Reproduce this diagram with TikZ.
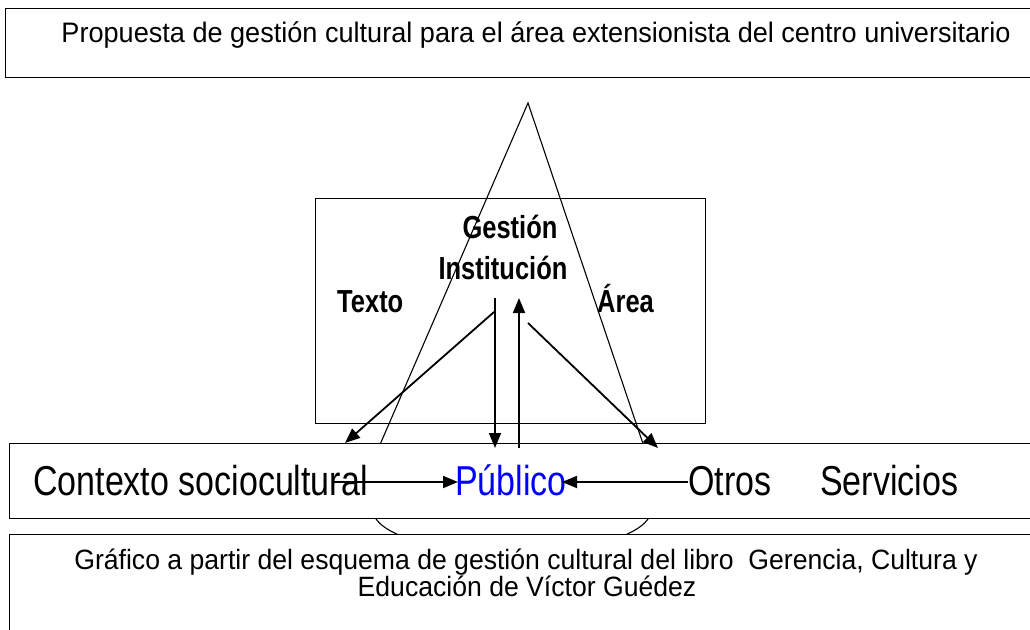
\documentclass[tikz,border=0pt]{standalone}
\usepackage{fontspec}
\setmainfont{Liberation Sans}
\usepackage{graphicx}
\usetikzlibrary{arrows.meta,shapes.geometric}
\newcommand{\vstr}[2]{\scalebox{1}[#1]{#2}}
\begin{document}
\begin{tikzpicture}[x=1pt,y=-1pt,
  box/.style={draw, line width=1.4pt, fill=white, inner sep=0pt, anchor=north west},
  tri/.style={line width=1.1pt},
  arr/.style={line width=1.8pt, -{Triangle[length=15pt,width=12pt]}},
  lbl/.style={inner sep=0pt, anchor=base west},
  clbl/.style={inner sep=0pt, anchor=base},
  big/.style={font=\fontsize{34}{40}\selectfont},
  bold/.style={font=\fontsize{25.5}{30}\selectfont\bfseries},
  small/.style={font=\fontsize{26.6}{30}\selectfont},
]
\useasboundingbox (0,0) rectangle (1030,629);
% middle box
\node[box, fill=none, minimum width=390pt, minimum height=225pt] (mid) at (315,198) {};
% cone
\coordinate (apex) at (528,103);
\coordinate (tl) at (356,500);
\coordinate (tr) at (662,500);
\draw[tri] (tl) -- (apex) -- (tr);
\node[draw, ellipse, line width=1.1pt, minimum width=278pt, minimum height=86pt, inner sep=0pt] (base) at (512,510) {};
% boxes
\node[box, minimum width=1040pt, minimum height=69pt] (top) at (5,8) {};
\node[box, minimum width=1040pt, minimum height=75pt] (ctx) at (9,443) {};
\node[box, minimum width=1040pt, minimum height=130pt] (bot) at (9,534) {};
% texts
\node[clbl, small, font=\fontsize{27.1}{30}\selectfont] (title) at (536,42) {\vstr{1.04}{Propuesta de gestión cultural para el área extensionista del centro universitario}};
\node[clbl, bold] (gest) at (510,238) {\vstr{1.25}{Gestión}};
\node[clbl, bold] (inst) at (503,279) {\vstr{1.25}{Institución}};
\node[lbl, bold] (texto) at (337,312) {\vstr{1.25}{Texto}};
\node[lbl, bold] (area) at (597,312) {\vstr{1.25}{Área}};
\node[lbl, big] (contexto) at (33,495) {\vstr{1.23}{Contexto sociocultural}};
\node[lbl, big, text=blue] (publico) at (455,495) {\vstr{1.23}{Público}};
\node[lbl, big] (otros) at (688,495) {\vstr{1.23}{Otros}};
\node[lbl, big] (serv) at (820,495) {\vstr{1.23}{Servicios}};
\node[clbl, small] (cap1) at (526,569) {\vstr{1.05}{Gráfico a partir del esquema de gestión cultural del libro\ \ Gerencia, Cultura y}};
\node[clbl, small] (cap2) at (527,596) {\vstr{1.05}{Educación de Víctor Guédez}};
% arrow end points
\coordinate (d1s) at (495,298); \coordinate (d1e) at (495,448);
\coordinate (u1s) at (519,448); \coordinate (u1e) at (519,298);
\coordinate (l1s) at (494,312); \coordinate (l1e) at (345,443);
\coordinate (r1s) at (528,323); \coordinate (r1e) at (658,448);
\coordinate (h1s) at (333,482); \coordinate (h1e) at (458,482);
\coordinate (h2s) at (688,482); \coordinate (h2e) at (562,482);
\draw[arr] (d1s) -- (d1e);
\draw[arr] (u1s) -- (u1e);
\draw[arr] (l1s) -- (l1e);
\draw[arr] (r1s) -- (r1e);
\draw[arr] (h1s) -- (h1e);
\draw[arr] (h2s) -- (h2e);
\end{tikzpicture}
\end{document}
